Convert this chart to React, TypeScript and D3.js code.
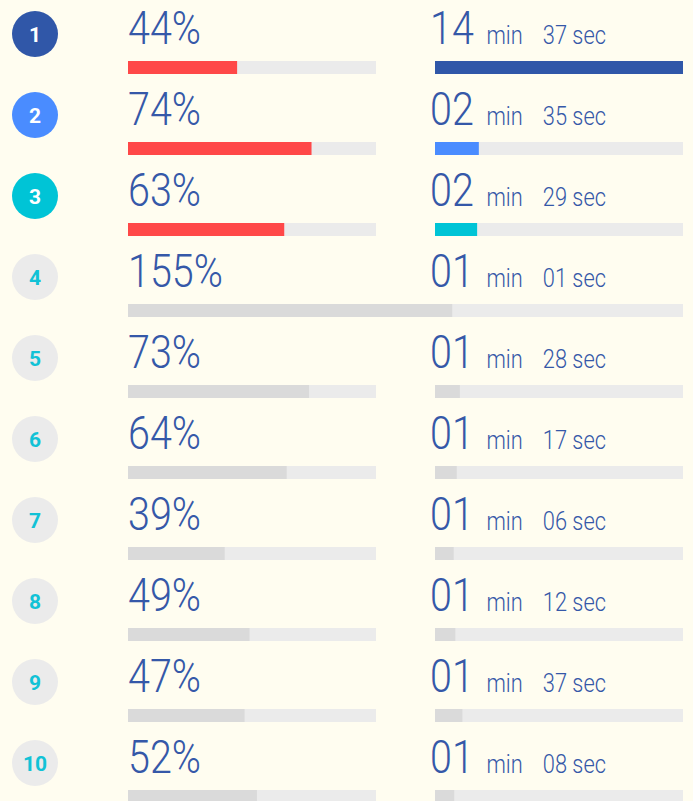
import React, { useEffect, useRef } from "react";
import * as d3 from "d3";

const ranks = [1, 2, 3, 4, 5, 6, 7, 8, 9, 10];
const pctValues = [44, 74, 63, 155, 73, 64, 39, 49, 47, 52];
const minutes = [14, 2, 2, 1, 1, 1, 1, 1, 1, 1];
const seconds = [37, 35, 29, 1, 28, 17, 6, 12, 37, 8];

const W = 693;
const H = 801;
const BG = "#fffdf0";
const TEXT = "#3558a8";
const TRACK = "#ebebeb";
const GREY_FILL = "#dadada";
const RED = "#ff4848";
const TOP_COLORS = ["#3057a8", "#4a8cff", "#00c4d6"];
const FONT = "Roboto, 'Noto Sans', sans-serif";
const SQUEEZE = 0.84;

const pad = (n: number) => (n < 10 ? `0${n}` : `${n}`);

export default function App() {
  const svgRef = useRef<SVGSVGElement>(null);

  useEffect(() => {
    if (!svgRef.current) return;
    document.body.style.margin = "0";
    document.body.style.background = BG;

    const svg = d3.select(svgRef.current);
    svg.selectAll("*").remove();
    svg.attr("width", W).attr("height", H);

    svg.append("rect").attr("width", W).attr("height", H).attr("fill", BG);

    const totals = minutes.map((m, i) => m * 60 + seconds[i]);

    const y = d3.scalePoint<number>().domain(ranks).range([34, 763]);
    const pctX = d3.scaleLinear().domain([0, 100]).range([0, 248]);
    const timeX = d3.scaleLinear().domain([0, d3.max(totals)!]).range([0, 248]);

    const pctLeft = 128;
    const timeLeft = 435;
    const barW = 248;
    const barH = 13;

    const rows = svg
      .selectAll(".row")
      .data(ranks)
      .enter()
      .append("g")
      .attr("class", "row")
      .attr("transform", (d) => `translate(0,${y(d)})`);

    // rank badge
    rows
      .append("circle")
      .attr("cx", 35)
      .attr("cy", 0)
      .attr("r", 23)
      .attr("fill", (_d, i) => (i < 3 ? TOP_COLORS[i] : TRACK));

    rows
      .append("text")
      .attr("x", 35)
      .attr("y", 7.5)
      .attr("text-anchor", "middle")
      .style("font-family", "'Liberation Sans Narrow', 'Roboto', sans-serif")
      .style("font-weight", "700")
      .style("font-size", "21px")
      .style("fill", (_d, i) => (i < 3 ? "#ffffff" : "#12c2d6"))
      .text((d) => d);

    // percentage text
    rows
      .append("text")
      .attr("transform", `translate(${pctLeft},10) scale(${SQUEEZE},1)`)
      .style("font-family", FONT)
      .style("font-weight", "300")
      .style("font-size", "47px")
      .style("fill", TEXT)
      .text((_d, i) => `${pctValues[i]}%`);

    // percentage bars + time bars
    rows.each(function (_d, i) {
      const g = d3.select(this);
      const over = pctValues[i] > 100;
      const trackW = over ? timeLeft + barW - pctLeft : barW;
      const fillW = over
        ? timeLeft - pctLeft + timeX(totals[i])
        : pctX(pctValues[i]);
      g.append("rect")
        .attr("x", pctLeft)
        .attr("y", 27)
        .attr("width", trackW)
        .attr("height", barH)
        .attr("fill", TRACK);
      g.append("rect")
        .attr("x", pctLeft)
        .attr("y", 27)
        .attr("width", fillW)
        .attr("height", barH)
        .attr("fill", i < 3 ? RED : GREY_FILL);
      if (!over) {
        g.append("rect")
          .attr("x", timeLeft)
          .attr("y", 27)
          .attr("width", barW)
          .attr("height", barH)
          .attr("fill", TRACK);
        g.append("rect")
          .attr("x", timeLeft)
          .attr("y", 27)
          .attr("width", timeX(totals[i]))
          .attr("height", barH)
          .attr("fill", i < 3 ? TOP_COLORS[i] : GREY_FILL);
      }
    });

    // time text
    const t = rows
      .append("text")
      .attr("transform", `translate(430,10) scale(${SQUEEZE},1)`)
      .style("font-family", FONT)
      .style("font-weight", "300")
      .style("fill", TEXT);
    t.append("tspan")
      .style("font-size", "47px")
      .text((_d, i) => pad(minutes[i]));
    t.append("tspan")
      .attr("dx", 15)
      .style("font-size", "26px")
      .text("min");
    t.append("tspan")
      .attr("dx", 24)
      .style("font-size", "26px")
      .text((_d, i) => `${pad(seconds[i])} sec`);
  }, []);

  return (
    <svg
      ref={svgRef}
      style={{ position: "absolute", left: 0, top: 0, display: "block" }}
    />
  );
}
